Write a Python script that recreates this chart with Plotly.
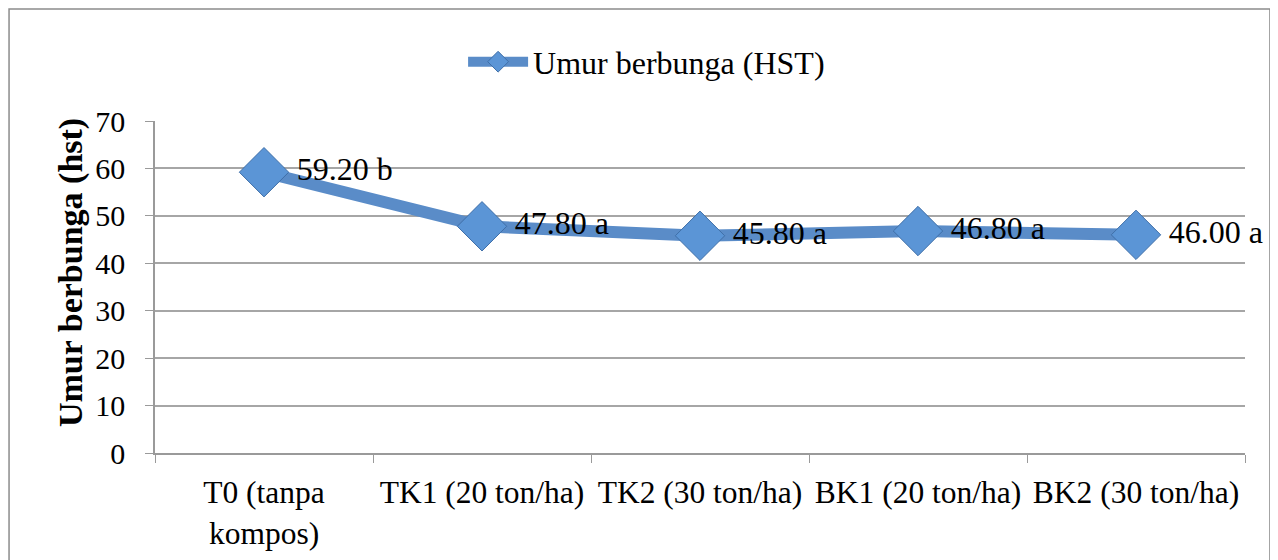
import plotly.graph_objects as go

categories = ["T0 (tanpa<br>kompos)", "TK1 (20 ton/ha)", "TK2 (30 ton/ha)", "BK1 (20 ton/ha)", "BK2 (30 ton/ha)"]
values = [59.20, 47.80, 45.80, 46.80, 46.00]
letters = ["b", "a", "a", "a", "a"]
labels = [f"{v:.2f} {l}" for v, l in zip(values, letters)]
y_title = "Umur berbunga (hst)"

FONT = "Liberation Serif, Times New Roman, serif"
fig = go.Figure()
fig.add_trace(go.Scatter(
    x=categories, y=values, mode="lines+markers+text",
    name="Umur berbunga (HST)",
    line=dict(color="#5A8CC8", width=12),
    marker=dict(symbol="diamond", size=38, color="#5B95D6", line=dict(color="#3F6FA8", width=1)),
    text=[" " + t for t in labels], textposition="middle right",
    textfont=dict(family=FONT, size=32, color="black"),
    cliponaxis=False,
))

# page body has an 8px default margin, so paper is offset by 8px
fig.update_layout(
    width=1278, height=560,
    margin=dict(l=147, r=41, t=113, b=115, autoexpand=False),
    paper_bgcolor="white", plot_bgcolor="white",
    font=dict(family=FONT, size=30, color="black"),
    showlegend=True,
    legend=dict(orientation="h", x=0.451, xanchor="center", y=1.178, yanchor="middle",
                font=dict(family=FONT, size=32, color="black"), itemwidth=60),
    xaxis=dict(type="category", range=[-0.5, 4.5], showgrid=False,
               showline=True, linecolor="#9a9a9a", linewidth=1.5,
               ticks="outside", tickson="boundaries", ticklen=8, tickcolor="#9a9a9a",
               ticklabelstandoff=10,
               tickfont=dict(family=FONT, size=31.5, color="black"), automargin=False),
    yaxis=dict(range=[0, 70], dtick=10, showgrid=True, gridcolor="#a6a6a6", gridwidth=1.5,
               showline=True, linecolor="#9a9a9a", linewidth=1.5,
               ticks="outside", ticklen=8, tickcolor="#9a9a9a", zeroline=False,
               ticklabelstandoff=14,
               tickfont=dict(family=FONT, size=30, color="black"), automargin=False),
    annotations=[dict(text=f"<b>{y_title}</b>", xref="paper", yref="paper", x=-0.0771, y=0.545,
                      xanchor="center", yanchor="middle", textangle=-90, showarrow=False,
                      font=dict(family=FONT, size=34, color="black"))],
    shapes=[dict(type="rect", xref="paper", yref="paper", x0=-0.1339, x1=1.0229, y0=-0.36, y1=1.3373,
                 line=dict(color="#8c8c8c", width=1.5), fillcolor="rgba(0,0,0,0)", layer="below")],
)

fig.write_html("out.html")
